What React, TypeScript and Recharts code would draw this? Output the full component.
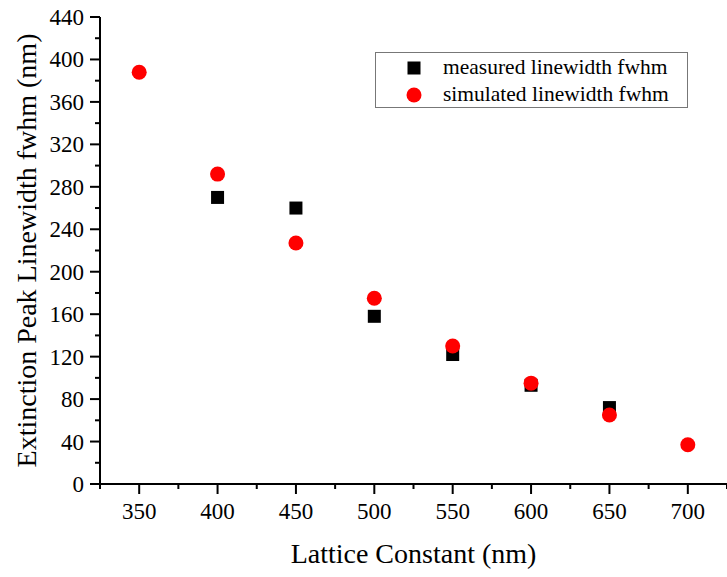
import React from 'react';
import { ScatterChart, Scatter, XAxis, YAxis } from 'recharts';

const latticeMeasured = [400, 450, 500, 550, 600, 650];
const measuredFwhm = [270, 260, 158, 122, 93, 72];
const latticeSimulated = [350, 400, 450, 500, 550, 600, 650, 700];
const simulatedFwhm = [388, 292, 227, 175, 130, 95, 65, 37];

const xTicks = [325, 350, 375, 400, 425, 450, 475, 500, 525, 550, 575, 600, 625, 650, 675, 700, 725];
const yTicks = [0, 20, 40, 60, 80, 100, 120, 140, 160, 180, 200, 220, 240, 260, 280, 300, 320, 340, 360, 380, 400, 420, 440];

const measuredData = latticeMeasured.map((x, i) => ({ x, y: measuredFwhm[i] }));
const simulatedData = latticeSimulated.map((x, i) => ({ x, y: simulatedFwhm[i] }));

const FONT = '"Liberation Serif", "Times New Roman", serif';

const BottomTick = (props: any) => {
  const { x, y, payload } = props;
  const v = payload.value;
  const major = v % 50 === 0;
  return (
    <g>
      <line x1={x} x2={x} y1={y} y2={y + (major ? 10 : 5)} stroke="#000" strokeWidth={2} />
      {major && v >= 350 && v <= 700 ? (
        <text x={x} y={y + 35} textAnchor="middle" fontSize={23} fontFamily={FONT} fill="#000">{v}</text>
      ) : null}
    </g>
  );
};

const LeftTick = (props: any) => {
  const { x, y, payload } = props;
  const v = payload.value;
  const major = v % 40 === 0;
  return (
    <g>
      <line x1={x - (major ? 10 : 5)} x2={x} y1={y} y2={y} stroke="#000" strokeWidth={2} />
      {major ? (
        <text x={x - 16} y={y + 8} textAnchor="end" fontSize={23} fontFamily={FONT} fill="#000">{v}</text>
      ) : null}
    </g>
  );
};

const TopTick = (props: any) => {
  const { x, y } = props;
  return <line x1={x} x2={x} y1={y} y2={y + 8} stroke="#000" strokeWidth={2} />;
};

const RightTick = (props: any) => {
  const { x, y, payload } = props;
  const major = payload.value % 40 === 0;
  return <line x1={x - (major ? 9 : 4.5)} x2={x} y1={y} y2={y} stroke="#000" strokeWidth={2} />;
};

const Square = (props: any) => {
  const { cx, cy } = props;
  if (cx == null || cy == null) return <g />;
  return <rect x={cx - 6.5} y={cy - 6.5} width={13} height={13} fill="#000" />;
};

const Dot = (props: any) => {
  const { cx, cy } = props;
  if (cx == null || cy == null) return <g />;
  return <circle cx={cx} cy={cy} r={7.5} fill="#ff0000" />;
};

const Empty = () => <g />;

export default function App() {
  return (
    <div style={{ position: 'absolute', left: 0, top: 0, width: 727, height: 577, background: '#fff', overflow: 'hidden' }}>
      <ScatterChart width={727} height={577} margin={{ top: 17, right: 0, bottom: 0, left: 0 }}>
        <XAxis
          xAxisId="bottom"
          dataKey="x"
          type="number"
          domain={[325, 725]}
          ticks={xTicks}
          interval={0}
          orientation="bottom"
          height={93}
          tickSize={0}
          tickMargin={0}
          tickLine={false}
          tick={<BottomTick />}
          axisLine={{ stroke: '#000', strokeWidth: 2 }}
          allowDataOverflow
          label={{ value: 'Lattice Constant (nm)', position: 'insideBottom', offset: 14, fontSize: 28, fontFamily: FONT, fill: '#000' }}
        />
        <XAxis
          xAxisId="top"
          dataKey="x"
          type="number"
          domain={[325, 725]}
          ticks={xTicks}
          interval={0}
          orientation="top"
          height={0}
          tickSize={0}
          tickMargin={0}
          tickLine={false}
          tick={<TopTick />}
          axisLine={{ stroke: '#000', strokeWidth: 2 }}
          allowDataOverflow
        />
        <YAxis
          yAxisId="left"
          dataKey="y"
          type="number"
          domain={[0, 440]}
          ticks={yTicks}
          interval={0}
          orientation="left"
          width={100}
          tickSize={0}
          tickMargin={0}
          tickLine={false}
          tick={<LeftTick />}
          axisLine={{ stroke: '#000', strokeWidth: 2 }}
          allowDataOverflow
          label={{ value: 'Extinction Peak Linewidth fwhm (nm)', angle: -90, position: 'insideLeft', offset: 0, dx: 26, fontSize: 28, fontFamily: FONT, fill: '#000', style: { textAnchor: 'middle' } }}
        />
        <YAxis
          yAxisId="right"
          dataKey="y"
          type="number"
          domain={[0, 440]}
          ticks={yTicks}
          interval={0}
          orientation="right"
          width={0}
          tickSize={0}
          tickMargin={0}
          tickLine={false}
          tick={<RightTick />}
          axisLine={false}
          allowDataOverflow
        />
        <Scatter xAxisId="top" yAxisId="right" data={simulatedData} shape={<Empty />} legendType="none" isAnimationActive={false} />
        <Scatter xAxisId="bottom" yAxisId="left" name="measured linewidth fwhm" data={measuredData} shape={<Square />} isAnimationActive={false} />
        <Scatter xAxisId="bottom" yAxisId="left" name="simulated linewidth fwhm" data={simulatedData} shape={<Dot />} isAnimationActive={false} />
      </ScatterChart>
      <div
        style={{
          position: 'absolute',
          left: 375,
          top: 52,
          width: 313,
          height: 56,
          border: '1px solid #777',
          background: '#fff',
          fontFamily: FONT,
          fontSize: 21.5,
          color: '#000',
          boxSizing: 'border-box',
        }}
      >
        <svg width={60} height={56} style={{ position: 'absolute', left: 0, top: 0 }}>
          <rect x={31.5} y={8.5} width={13} height={13} fill="#000" />
          <circle cx={38} cy={42} r={7.5} fill="#ff0000" />
        </svg>
        <div style={{ position: 'absolute', left: 67, top: 1, lineHeight: '27px', whiteSpace: 'nowrap' }}>measured linewidth fwhm</div>
        <div style={{ position: 'absolute', left: 67, top: 28, lineHeight: '27px', whiteSpace: 'nowrap' }}>simulated linewidth fwhm</div>
      </div>
    </div>
  );
}
